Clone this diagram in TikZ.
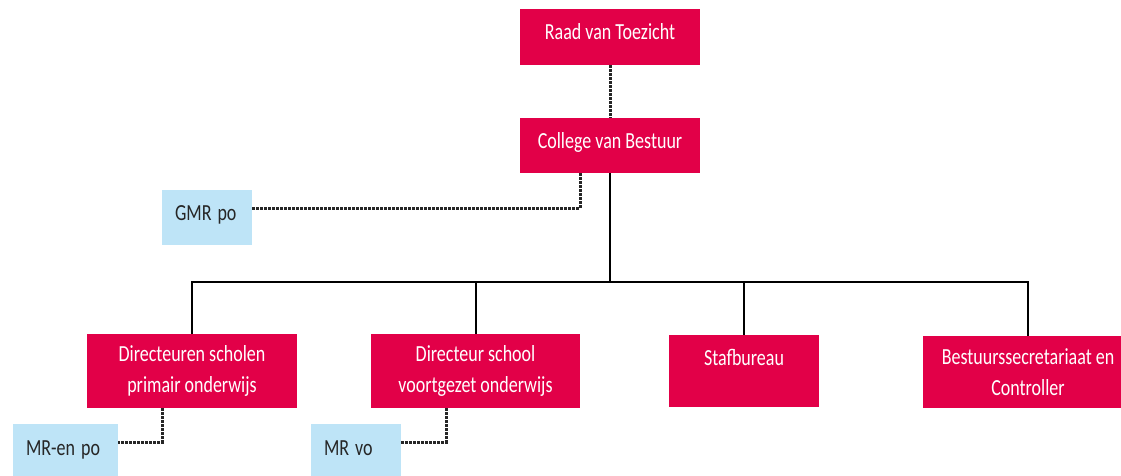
\documentclass[tikz,border=0pt]{standalone}
\usepackage{fontspec}
\setmainfont{Carlito}
\usepackage{graphicx}
\definecolor{boxred}{RGB}{226,0,72}
\definecolor{boxblue}{RGB}{190,228,247}
\newcommand\vst[1]{\scalebox{1}[1.28]{#1}}
\newcommand\vsd[1]{\raisebox{-3pt}{\scalebox{1}[1.28]{#1}}}
\begin{document}
\begin{tikzpicture}[x=1pt,y=-1pt,
  redbox/.style={fill=boxred, text=white, inner sep=0pt, align=center,
    font=\fontsize{18}{31}\selectfont},
  bluebox/.style={fill=boxblue, text=black!85, inner xsep=13pt, inner ysep=0pt,
    align=left, font=\fontsize{18}{22}\selectfont},
  solidline/.style={line width=2pt, black},
  dotline/.style={line width=3pt, dash pattern=on 2.4pt off 1.6pt, black!85}]
\clip (0,0) rectangle (1121,476);
\fill[white] (0,0) rectangle (1121,476);
% red boxes
\node[redbox, minimum width=180pt, text height=30.5pt, text depth=25.5pt] (raad) at (610,37) {\vst{Raad van Toezicht}};
\node[redbox, minimum width=180pt, text height=30.5pt, text depth=24.5pt] (cvb) at (610,145.5) {\vst{College van Bestuur}};
\node[redbox, minimum width=210pt, minimum height=74pt] (d1) at (192,371) {\vsd{Directeuren scholen}\\\vsd{primair onderwijs}};
\node[redbox, minimum width=209pt, minimum height=74pt] (d2) at (475.5,371) {\vsd{Directeur school}\\\vsd{voortgezet onderwijs}};
\node[redbox, minimum width=150pt, text height=30.5pt, text depth=41.5pt] (d3) at (744,371) {\vst{Stafbureau}};
\node[redbox, minimum width=210pt, minimum height=72pt] (d4) at (1028,372) {\vst{Bestuurssecretariaat en}\\\vst{Controller}};
% blue boxes
\node[bluebox, text width=64pt, text height=30.5pt, text depth=24.5pt] (gmr) at (207,217.5) {\vst{GMR po}};
\node[bluebox, text width=79pt, text height=31.5pt, text depth=34.5pt] (mr1) at (65.5,457) {\vst{MR-en po}};
\node[bluebox, text width=64pt, text height=31.5pt, text depth=34.5pt] (mr2) at (356,457) {\vst{MR vo}};
% connectors
\coordinate (bus) at (610,282);
\draw[dotline] (raad) -- (cvb);
\draw[solidline] (cvb.south) -- (bus);
\foreach \n in {d1,d2,d3,d4} \draw[solidline] (bus) -| (\n.north);
\draw[dotline] ([xshift=-30pt]cvb.south) |- ([yshift=9.5pt]gmr.east);
\draw[dotline] ([xshift=-30pt]d1.south) |- ([yshift=15pt]mr1.east);
\draw[dotline] ([xshift=-29.5pt]d2.south) |- ([yshift=15pt]mr2.east);
\end{tikzpicture}
\end{document}
